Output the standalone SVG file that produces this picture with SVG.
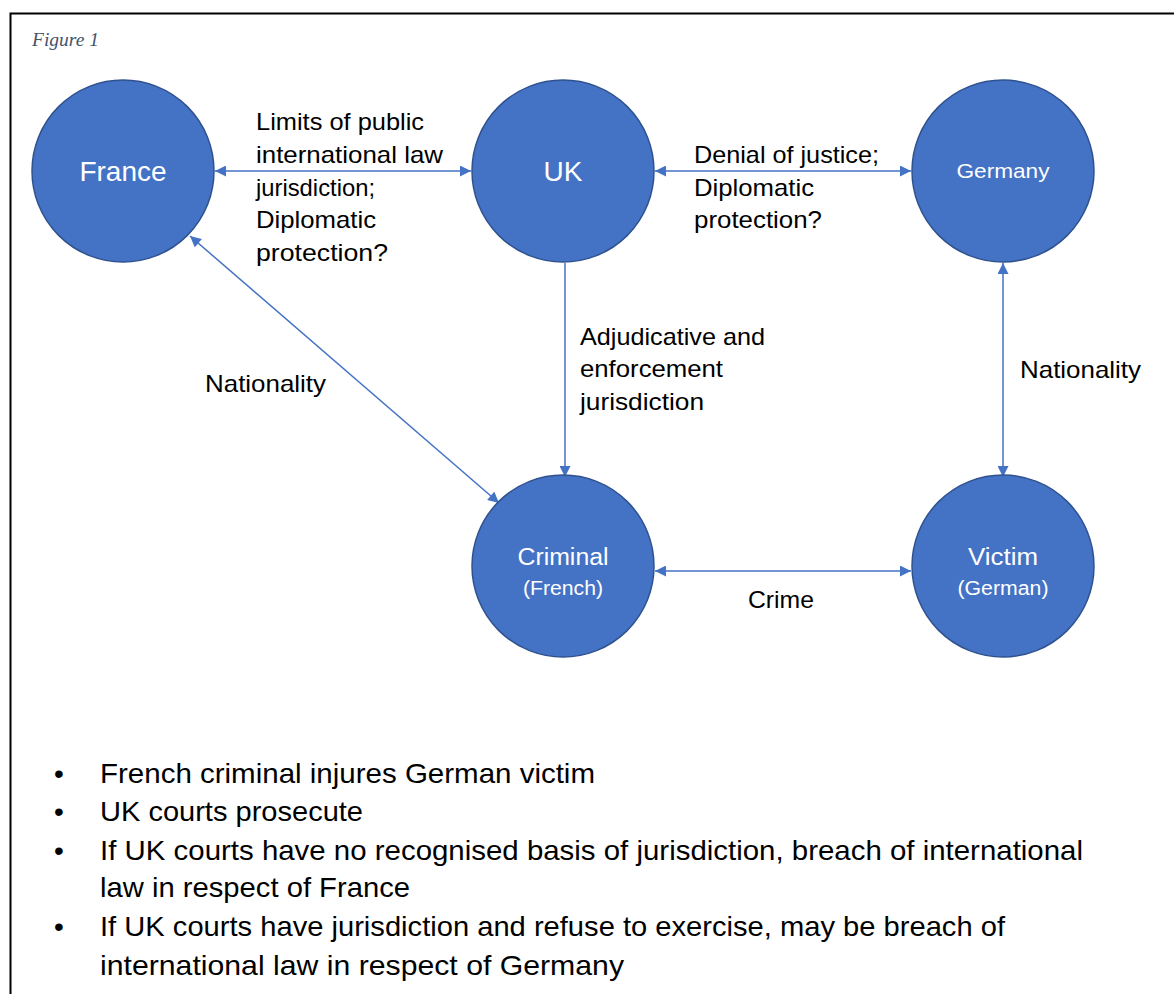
<svg xmlns="http://www.w3.org/2000/svg" width="1174" height="994" viewBox="0 0 1174 994">
<style>
.node{fill:#4472C4;stroke:#2F528F;stroke-width:1.5}
.conn{stroke:#4472C4;stroke-width:1.5;fill:none}
.lbl{font-family:"Liberation Sans",Arial,sans-serif;font-size:24px;fill:#000}
.in{font-family:"Liberation Sans",Arial,sans-serif;fill:#fff;text-anchor:middle}
.bul{font-family:"Liberation Sans",Arial,sans-serif;font-size:28px;fill:#000}
</style>
<defs>
<marker id="ah" viewBox="0 0 10 10" refX="10" refY="5" markerWidth="12" markerHeight="11" markerUnits="userSpaceOnUse" orient="auto-start-reverse">
<path d="M0,0 L10,5 L0,10 z" fill="#4472C4"/>
</marker>
</defs>
<rect x="0" y="0" width="1174" height="994" fill="#fff"/>
<rect x="10.5" y="13.5" width="1180" height="1000" fill="none" stroke="#000" stroke-width="2"/>
<text x="32" y="46" font-family="Liberation Serif,serif" font-style="italic" font-size="19.5" fill="#44546A">Figure 1</text>

<g id="connectors">
<line class="conn" x1="215" y1="171" x2="471" y2="171" marker-start="url(#ah)" marker-end="url(#ah)"/>
<line class="conn" x1="655" y1="171" x2="911" y2="171" marker-start="url(#ah)" marker-end="url(#ah)"/>
<line class="conn" x1="565" y1="263" x2="565" y2="477" marker-end="url(#ah)"/>
<line class="conn" x1="1003" y1="263" x2="1003" y2="477" marker-start="url(#ah)" marker-end="url(#ah)"/>
<line class="conn" x1="655" y1="571" x2="911" y2="571" marker-start="url(#ah)" marker-end="url(#ah)"/>
<line class="conn" x1="190" y1="236" x2="499" y2="503" marker-start="url(#ah)" marker-end="url(#ah)"/>
</g>

<g id="france"><circle class="node" cx="123" cy="171" r="91"/><text class="in" x="123" y="181" font-size="28">France</text></g>
<g id="uk"><circle class="node" cx="563" cy="171" r="91"/><text class="in" x="563" y="181" font-size="28">UK</text></g>
<g id="germany"><circle class="node" cx="1003" cy="171" r="91"/><text class="in" x="1003" y="178" font-size="21" textLength="93" lengthAdjust="spacingAndGlyphs">Germany</text></g>
<g id="criminal"><circle class="node" cx="563" cy="566" r="91"/><text class="in" x="563" y="565" font-size="23" textLength="91" lengthAdjust="spacingAndGlyphs">Criminal</text><text class="in" x="563" y="595" font-size="20" textLength="80" lengthAdjust="spacingAndGlyphs">(French)</text></g>
<g id="victim"><circle class="node" cx="1003" cy="566" r="91"/><text class="in" x="1003" y="565" font-size="23" textLength="70" lengthAdjust="spacingAndGlyphs">Victim</text><text class="in" x="1003" y="595" font-size="20" textLength="91" lengthAdjust="spacingAndGlyphs">(German)</text></g>

<g id="labels">
<text class="lbl" x="256" y="130" textLength="168" lengthAdjust="spacingAndGlyphs">Limits of public</text>
<text class="lbl" x="256" y="163" textLength="187" lengthAdjust="spacingAndGlyphs">international law</text>
<text class="lbl" x="256" y="196" textLength="119" lengthAdjust="spacingAndGlyphs">jurisdiction;</text>
<text class="lbl" x="256" y="228" textLength="120" lengthAdjust="spacingAndGlyphs">Diplomatic</text>
<text class="lbl" x="256" y="261" textLength="132" lengthAdjust="spacingAndGlyphs">protection?</text>
<text class="lbl" x="694" y="163" textLength="185" lengthAdjust="spacingAndGlyphs">Denial of justice;</text>
<text class="lbl" x="694" y="196" textLength="120" lengthAdjust="spacingAndGlyphs">Diplomatic</text>
<text class="lbl" x="694" y="228" textLength="128" lengthAdjust="spacingAndGlyphs">protection?</text>
<text class="lbl" x="580" y="345" textLength="185" lengthAdjust="spacingAndGlyphs">Adjudicative and</text>
<text class="lbl" x="580" y="377" textLength="143" lengthAdjust="spacingAndGlyphs">enforcement</text>
<text class="lbl" x="580" y="410" textLength="124" lengthAdjust="spacingAndGlyphs">jurisdiction</text>
<text class="lbl" x="205" y="392" textLength="121" lengthAdjust="spacingAndGlyphs">Nationality</text>
<text class="lbl" x="1020" y="378" textLength="121" lengthAdjust="spacingAndGlyphs">Nationality</text>
<text class="lbl" x="748" y="608" textLength="66" lengthAdjust="spacingAndGlyphs">Crime</text>
</g>

<g id="bullets">
<text class="bul" x="54" y="783">•</text>
<text class="bul" x="100" y="783" textLength="495" lengthAdjust="spacingAndGlyphs">French criminal injures German victim</text>
<text class="bul" x="54" y="821">•</text>
<text class="bul" x="100" y="821" textLength="263" lengthAdjust="spacingAndGlyphs">UK courts prosecute</text>
<text class="bul" x="54" y="860">•</text>
<text class="bul" x="100" y="860" textLength="983" lengthAdjust="spacingAndGlyphs">If UK courts have no recognised basis of jurisdiction, breach of international</text>
<text class="bul" x="100" y="897" textLength="310" lengthAdjust="spacingAndGlyphs">law in respect of France</text>
<text class="bul" x="54" y="936">•</text>
<text class="bul" x="100" y="936" textLength="905" lengthAdjust="spacingAndGlyphs">If UK courts have jurisdiction and refuse to exercise, may be breach of</text>
<text class="bul" x="100" y="975" textLength="524" lengthAdjust="spacingAndGlyphs">international law in respect of Germany</text>
</g>
</svg>
